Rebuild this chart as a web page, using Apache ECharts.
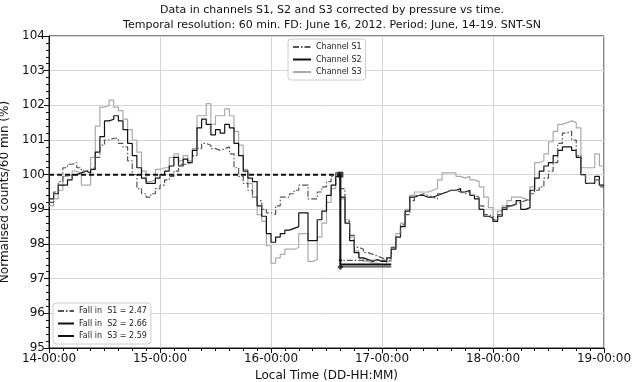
<!DOCTYPE html>
<html>
<head>
<meta charset="utf-8">
<script src="https://cdn.jsdelivr.net/npm/echarts@6/dist/echarts.min.js"></script>
<style>html,body{margin:0;padding:0;background:#fff}#c{width:634px;height:382px}</style>
</head>
<body>
<div id="c"></div>
<script>
// hourly values, index = hours since 14-00:00
const s1 = [
99.2,99.5,99.8,100.2,100.3,100.35,100.2,100.1,100.15,100.2,100.5,100.85,101.0,101.05,101.05,100.9,100.8,100.4,100.0,99.6,99.45,99.35,99.45,99.6,
99.7,99.85,99.95,100.1,100.3,100.3,100.35,100.55,100.75,100.9,100.85,100.75,100.7,100.75,100.8,100.6,100.2,99.95,99.75,99.55,99.35,99.25,99.0,98.9,
98.85,99.1,99.35,99.35,99.45,99.55,99.7,99.7,99.3,99.3,99.5,99.65,99.8,99.95,100.05,99.6,98.65,98.25,97.9,97.85,97.75,97.7,97.65,97.6,
97.55,97.6,97.9,98.2,98.55,98.85,99.25,99.4,99.45,99.4,99.35,99.3,99.45,99.5,99.55,99.55,99.5,99.45,99.5,99.4,99.35,99.1,98.85,98.8,
98.7,98.85,99.05,99.1,99.15,99.2,99.25,99.3,99.45,99.55,99.65,99.9,100.1,100.35,100.9,101.2,101.25,101.0,100.55,100.0,99.75,99.75,99.85,99.65
];
const s2 = [
99.3,99.45,99.7,99.7,99.85,100.0,100.05,100.1,100.05,100.15,100.65,101.1,101.55,101.6,101.7,101.55,101.3,100.9,100.55,100.2,99.9,99.75,99.75,99.9,
100.0,100.1,100.25,100.5,100.25,100.45,100.35,100.7,101.35,101.6,101.45,101.15,101.3,101.2,101.45,101.35,100.9,100.55,100.1,99.9,99.8,99.1,98.8,98.3,
98.05,98.2,98.3,98.4,98.45,98.5,98.9,98.9,98.1,98.1,98.7,98.95,99.4,99.7,99.95,99.35,98.6,98.1,97.75,97.6,97.55,97.5,97.55,97.5,
97.5,97.6,97.85,98.2,98.5,98.95,99.35,99.4,99.4,99.35,99.35,99.4,99.45,99.5,99.55,99.55,99.6,99.5,99.55,99.4,99.3,99.0,98.8,98.75,
98.65,98.8,99.0,99.1,99.15,99.25,99.0,99.05,99.55,99.9,100.1,100.25,100.35,100.55,100.7,100.8,100.8,100.7,100.5,100.0,99.75,99.75,99.95,99.7
];
const s3 = [
99.1,99.3,99.55,99.95,100.0,100.1,100.05,99.7,99.7,100.5,101.4,101.95,102.0,102.15,101.95,101.85,101.6,101.3,101.0,100.65,100.1,99.8,99.85,100.15,
100.2,100.2,100.5,100.6,100.4,100.55,100.4,100.75,101.7,101.7,102.05,101.45,101.7,101.7,101.9,101.7,101.25,100.85,100.15,99.75,99.35,98.85,98.65,97.95,
97.45,97.6,97.7,97.85,97.85,97.9,98.3,98.3,97.5,97.55,98.2,98.6,99.2,99.6,100.05,99.3,98.7,98.2,97.8,97.6,97.5,97.45,97.45,97.4,
97.4,97.5,97.9,98.3,98.6,99.0,99.4,99.5,99.5,99.5,99.55,99.6,99.85,100.05,100.05,100.05,99.95,99.9,99.95,99.85,99.8,99.65,99.35,99.05,
98.7,98.95,99.1,99.25,99.35,99.35,99.3,99.25,99.65,100.35,100.4,100.6,100.95,101.25,101.45,101.5,101.55,101.5,101.35,100.2,100.2,100.2,100.6,100.25
];
const channelNames = ['Channel S1','Channel S2','Channel S3'];
const fallNames = ['Fall in  S1 = 2.47','Fall in  S2 = 2.66','Fall in  S3 = 2.59'];
const falls = [2.47, 2.66, 2.59];
const baseLevel = 100;
const fdHour = 63;      // 16-15:00
const fallEndHour = 74; // 17-02:00
const startDay = 14;
const xTickLabels = ['14-00:00','15-00:00','16-00:00','17-00:00','18-00:00','19-00:00'];

function toPairs(arr){
  const d = arr.map((v,i)=>[i,v]);
  d.push([arr.length, arr[arr.length-1]]);
  return d;
}
const font = 'DejaVu Sans';
const chColors = ['#555555','#111111','#aaaaaa'];
const chStyles = [[6,2,1.5,2],'solid','solid'];
const fallStyles = [{color:'#555',width:1.3,type:[6,2,1.5,2]},{color:'#333',width:1,type:'solid'},{color:'#111',width:2,type:'solid'}];

const series = [];
[s1,s2,s3].forEach((arr,k)=>{
  series.push({
    name: channelNames[k], type:'line', step:'end', symbol:'none',
    data: toPairs(arr), z: 3-k+2,
    lineStyle:{color:chColors[k], width:1.2, type:chStyles[k]},
    itemStyle:{color:chColors[k]}
  });
});
series.push({
  name:'base', type:'line', symbol:'none', z:8,
  data:[[0,baseLevel],[fdHour,baseLevel]],
  lineStyle:{color:'#111', width:2, type:[5,3]}
});
falls.forEach((f,k)=>{
  const lv = +(baseLevel - f).toFixed(2);
  series.push({
    name: fallNames[k], type:'line', symbol:'none', z:9,
    data:[[fdHour,baseLevel],[fdHour,lv],[fallEndHour,lv]],
    lineStyle:{...fallStyles[k], color: k===0 ? '#555' : '#111'},
    itemStyle:{color: fallStyles[k].color}
  });
});
series.push({
  name:'marks', type:'scatter', z:10,
  data:[{value:[fdHour,baseLevel],symbol:'rect',symbolSize:6},
        {value:[fdHour,baseLevel-falls[1]],symbol:'diamond',symbolSize:6},
        {value:[fdHour,baseLevel-falls[0]],symbol:'diamond',symbolSize:4}],
  itemStyle:{color:'#111'}
});

const legendCommon = {
  orient:'vertical', itemHeight:8, itemGap:4.5, padding:[4,4,4,4],
  borderColor:'#ccc', borderWidth:1, borderRadius:3, backgroundColor:'#fff',
  itemStyle:{opacity:0},
  textStyle:{fontFamily:font, fontSize:8, color:'#222'}
};

const chart = echarts.init(document.getElementById('c'), null, {renderer:'canvas'});
chart.setOption({
  animation:false,
  backgroundColor:'#fff',
  textStyle:{fontFamily:font},
  title:{
    text:'Data in channels S1, S2 and S3 corrected by pressure vs time.\nTemporal resolution: 60 min. FD: June 16, 2012. Period: June, 14-19. SNT-SN',
    left:327, top:-2, textAlign:'center',
    textStyle:{fontFamily:font, fontSize:11, fontWeight:'normal', color:'#111', lineHeight:15}
  },
  grid:{left:49, right:30, top:36, bottom:34, show:true, borderColor:'#111', borderWidth:1,
        backgroundColor:'transparent', outerBoundsMode:'none', containLabel:false},
  legend:[
    Object.assign({}, legendCommon, {data: channelNames, left:288, top:39, itemWidth:18}),
    Object.assign({}, legendCommon, {data: fallNames, left:53, top:303, itemWidth:16})
  ],
  xAxis:{
    type:'value', min:0, max:120, interval:24,
    name:'Local Time (DD-HH:MM)', nameLocation:'middle', nameGap:21,
    nameTextStyle:{fontFamily:font, fontSize:12, color:'#111'},
    axisLine:{lineStyle:{color:'#111'}},
    axisTick:{length:5, lineStyle:{color:'#111'}},
    minorTick:{show:true, splitNumber:8, length:3, lineStyle:{color:'#111'}},
    axisLabel:{fontFamily:font, fontSize:12, color:'#111', margin:5,
      formatter:(v)=>xTickLabels[Math.round(v/24)] || ((startDay+v/24)+'-00:00')},
    splitLine:{show:true, lineStyle:{color:'#d4d4d4', width:1}}
  },
  yAxis:{
    type:'value', min:95, max:104, interval:1,
    name:'Normalised counts/60 min (%)', nameLocation:'middle', nameGap:30,
    nameTextStyle:{fontFamily:font, fontSize:12, color:'#111'},
    axisLine:{show:true, lineStyle:{color:'#111'}},
    axisTick:{show:true, length:5, lineStyle:{color:'#111'}},
    minorTick:{show:true, splitNumber:5, length:3, lineStyle:{color:'#111'}},
    axisLabel:{fontFamily:font, fontSize:12, color:'#111', margin:4},
    splitLine:{show:true, lineStyle:{color:'#d4d4d4', width:1}}
  },
  series: series
});
</script>
</body>
</html>
